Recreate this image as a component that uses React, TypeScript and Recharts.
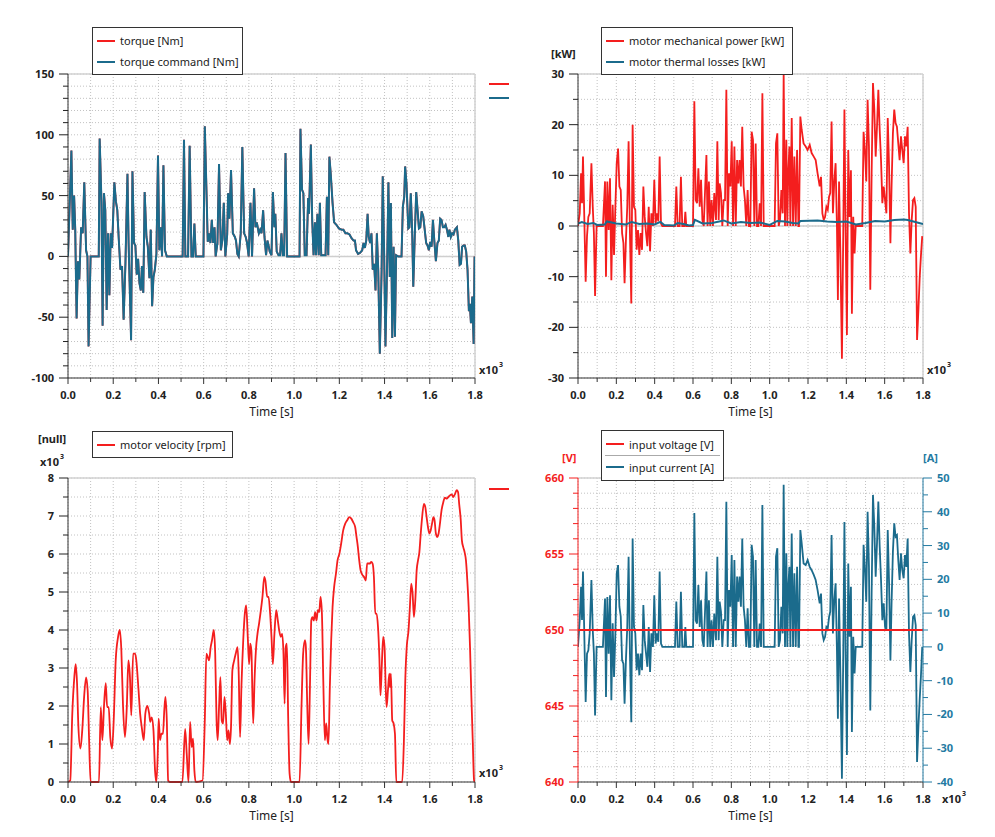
import React from "react";
import { CartesianGrid, Line, LineChart, ReferenceLine, XAxis, YAxis } from "recharts";

const FONT = "'Noto Sans', 'DejaVu Sans', sans-serif";
const RED = "#f41e1e";
const TEAL = "#1b6b8c";
const TEAL_TEXT = "#237aa2";
const INK = "#222";

// time axis in seconds, shown as x10^3
const timeTicks = [0, 100, 200, 300, 400, 500, 600, 700, 800, 900, 1000, 1100, 1200, 1300, 1400, 1500, 1600, 1700, 1800];

// torque [Nm] (torque and torque command overlap)
const torqueTime = [
  0, 15, 21, 27, 32, 38, 44, 50, 58, 65,
  72, 80, 86, 91, 100, 136, 140, 148, 153, 159,
  165, 171, 177, 183, 189, 195, 205, 212, 218, 224,
  232, 239, 246, 254, 263, 268, 279, 285, 292, 298,
  304, 310, 316, 322, 327, 333, 339, 347, 353, 360,
  366, 372, 378, 384, 391, 398, 404, 410, 416, 422,
  429, 437, 507, 513, 519, 531, 538, 546, 553, 559,
  565, 599, 605, 612, 618, 624, 630, 636, 642, 648,
  653, 661, 668, 676, 683, 689, 696, 704, 708, 714,
  721, 729, 738, 743, 749, 755, 764, 771, 779, 786,
  792, 799, 807, 814, 823, 829, 835, 844, 850, 856,
  863, 869, 876, 882, 888, 892, 900, 906, 913, 917,
  923, 931, 938, 944, 950, 956, 962, 969, 1024, 1028,
  1035, 1041, 1047, 1055, 1062, 1066, 1074, 1080, 1086, 1092,
  1097, 1103, 1109, 1114, 1120, 1131, 1139, 1145, 1151, 1156,
  1162, 1170, 1177, 1187, 1198, 1210, 1218, 1227, 1236, 1245,
  1254, 1263, 1269, 1274, 1283, 1292, 1301, 1307, 1313, 1319,
  1325, 1330, 1336, 1342, 1348, 1354, 1360, 1366, 1372, 1379,
  1387, 1392, 1398, 1404, 1412, 1417, 1423, 1428, 1434, 1440,
  1446, 1451, 1460, 1475, 1481, 1487, 1491, 1497, 1505, 1510,
  1516, 1522, 1527, 1534, 1540, 1546, 1552, 1558, 1564, 1571,
  1577, 1584, 1590, 1596, 1602, 1608, 1614, 1620, 1627, 1634,
  1640, 1646, 1652, 1658, 1664, 1670, 1676, 1682, 1687, 1693,
  1699, 1705, 1711, 1720, 1726, 1732, 1738, 1743, 1749, 1755,
  1761, 1767, 1773, 1777, 1782, 1788, 1794, 1798,
];
const torqueNm = [
  0, 87, 22, 50, 22, -51, -4, -19, 24, 19,
  61, 5, 0, -74, 0, 0, 97, 45, -57, 52,
  38, -44, 19, -32, 19, 7, 61, 45, 38, 16,
  -11, -8, -52, -6, 68, 11, -69, 70, 11, 9,
  -15, -2, -22, -28, -8, -30, 53, 16, 8, -18,
  22, -41, -17, -11, 2, 83, 5, 24, 0, 75,
  5, 0, 0, 96, 0, 0, 91, 0, 0, 27,
  0, 0, 107, 57, 12, 19, 11, 30, 11, 24,
  0, 11, 76, 5, 14, 44, 0, 18, 52, 31,
  71, 19, 16, 13, 2, 0, 19, 90, 19, 16,
  11, 0, 44, 0, 56, 24, 28, 19, 22, 19,
  38, 16, 1, 13, 8, 4, 1, 53, 24, 35,
  4, 1, 1, 19, 1, 1, 85, 0, 0, 105,
  55, 52, 1, 1, 48, 35, 92, 30, 1, 28,
  1, 35, 1, 44, 1, 1, 1, 49, 1, 82,
  68, 44, 28, 26, 23, 22, 22, 19, 19, 18,
  15, 13, 13, 5, 2, 3, 5, 11, 7, 13,
  35, 16, 11, 19, -11, -6, -28, 19, -11, -80,
  -11, 66, 5, -74, 0, 61, -17, 44, -67, 8,
  -66, 1, 0, 0, 41, 49, 74, 60, 23, 24,
  52, 22, -25, 19, 53, 38, 23, 24, 37, 33,
  23, 11, 9, 5, 12, 8, 30, 13, -4, 11,
  13, 31, 30, 24, 24, 26, 22, 16, 22, 16,
  19, 18, 22, 24, 13, -7, -6, 8, 9, 9,
  4, -11, -45, -39, -55, -33, -72, 0,
];

// electrical / power samples (shared time base)
const elecTime = [
  0, 9, 16, 21, 26, 31, 40, 47, 54, 61,
  70, 77, 83, 89, 97, 130, 141, 146, 153, 160,
  167, 174, 181, 188, 195, 202, 209, 216, 223, 230,
  237, 243, 250, 257, 264, 271, 278, 285, 292, 299,
  306, 313, 320, 327, 334, 341, 348, 355, 362, 369,
  376, 383, 391, 398, 405, 412, 419, 426, 433, 440,
  506, 513, 520, 530, 537, 544, 555, 560, 565, 600,
  607, 614, 621, 628, 635, 642, 649, 656, 663, 670,
  676, 683, 690, 697, 704, 711, 720, 727, 734, 739,
  746, 753, 760, 767, 774, 781, 788, 795, 802, 809,
  816, 823, 830, 837, 843, 850, 857, 864, 871, 878,
  885, 892, 899, 906, 913, 920, 927, 934, 941, 948,
  955, 962, 969, 976, 1026, 1033, 1040, 1047, 1054, 1061,
  1068, 1073, 1080, 1087, 1092, 1097, 1103, 1108, 1115, 1122,
  1129, 1136, 1143, 1150, 1153, 1160, 1167, 1177, 1188, 1198,
  1209, 1219, 1230, 1240, 1250, 1261, 1268, 1275, 1282, 1289,
  1296, 1303, 1310, 1316, 1323, 1330, 1337, 1344, 1351, 1356,
  1362, 1369, 1377, 1384, 1390, 1396, 1403, 1410, 1417, 1424,
  1429, 1436, 1443, 1449, 1483, 1490, 1497, 1504, 1511, 1518,
  1525, 1532, 1539, 1546, 1553, 1560, 1567, 1574, 1581, 1588,
  1595, 1602, 1609, 1616, 1623, 1630, 1636, 1643, 1650, 1657,
  1664, 1671, 1678, 1685, 1692, 1699, 1706, 1713, 1720, 1727,
  1734, 1741, 1748, 1755, 1762, 1769, 1776, 1783, 1789, 1796,
];
const mechPowerKw = [
  0, 2.5, 10.4, 4.5, 13.7, 5, -11, -2, 1.8, 2.5,
  12.4, 3.8, -1.4, -13.8, 0, 0, 8.8, -10, 8.8, -0.8,
  9.4, -10.7, 4.2, -5.7, 3.8, 12.4, 15.3, 7.8, 7.1, -1.4,
  -3.4, -11.3, -2.8, 3.8, 16.7, -1.4, -15.3, 20, 3.8, 3.2,
  -4.7, -0.8, -5.7, -1.4, -4.7, 7.8, 1.8, -1.4, -4, 3.8,
  -5, 2.5, 0, 9.1, 0.5, 2.5, 0.9, 13.7, 0.5, 0,
  0, 7.8, 0, 0, 9.7, 0, 0, 2.8, 0, 0,
  24.6, 5.1, 4.5, 11.4, 3.8, 9.1, 1.2, 0, 7.1, 14,
  0, 8.8, 0, 5.1, 0, 6.5, 1.2, 16.7, 1.2, 8.4,
  6.5, 0, 5.1, 5.1, 26.9, 0, 10.4, 7.8, 16.7, 0,
  15.7, 0, 13, 8.4, 13, 7.8, 19.6, 7.8, 5.1, 0,
  7.1, 0, 0, 18.6, 17, 0, 16.3, 0, 0, 4.5,
  0, 26.2, 0, 0, 0, 16.3, 18.3, 0, 1.2, 7.1,
  2.5, 30, 0, 17, 0, 10.4, 15.7, 0, 21.3, 0,
  13.7, 0, 15, 0, 0, 21.6, 19, 16.3, 15.7, 15,
  16, 14.4, 13.7, 13, 10.4, 7.8, 9.7, 2.5, 1.2, 1.8,
  3.8, 3.2, 5.8, 6.5, 20.6, 2.5, 8.8, 12.4, 0, -14.6,
  8.8, -5.4, -26.2, -1.4, 23, 0, -21.5, 15, 1.8, 11,
  -17.3, 1.8, -5.4, 0, 0, 18.6, 15, 8.8, 24.9, 15.7,
  -12.6, 10.4, 28.2, 23, 13.7, 19.6, 26.9, 19, 13, 4.5,
  7.8, 5.1, 2.5, 21.3, 11.7, -3.4, 7.8, 18.3, 23, 20.3,
  19.6, 16.3, 13, 17.7, 15, 12.4, 17.7, 15.7, 19.6, 2.5,
  -5.4, 1.2, 5.1, 5.5, 3.8, -22.5, -16.6, -10, -6, -2,
];
const inputCurrentA = [
  0, 8, 17.8, 8, 22.3, 9, -16.3, -2, -1, 4,
  19.8, 5, -2, -20.3, 0, 0, 14.3, -14.8, 14.8, -2,
  15.3, -15.8, 7, -8.9, 4, 21.8, 24.2, 11.9, 9, -4,
  -5, -16.8, -4, 5.9, 26.7, -2, -22.3, 32.1, 5.9, 4,
  -6.9, -2, -8.4, -2, -6.9, 12.4, 2, -2, -5.9, 5.9,
  -7.4, 4, 0, 15.3, 1, 4, 1.5, 22.3, 1, 0,
  0, 13.4, 0, 0, 16.3, 0, 0, 5.9, 0, 0,
  39.6, 7.9, 6.9, 18.3, 5.9, 13.8, 2, 0, 10.9, 22.3,
  0, 13.8, 0, 7.9, 0, 9.9, 2, 26.7, 2, 13.4,
  10.4, 0, 7.9, 7.9, 43, 0, 16.8, 11.9, 27.2, 0,
  25.7, 0, 20.8, 13.4, 20.8, 11.9, 32.1, 11.9, 7.9, 0,
  11.4, 0, 0, 30.2, 26.7, 0, 25.7, 0, 0, 6.9,
  0, 42, 0, 0, 0, 26.7, 29.2, 0, 2, 11.9,
  4, 48, 0, 27.7, 0, 17.8, 23.7, 0, 33.6, 0,
  21.8, 0, 23.7, 0, 0, 34.6, 30.7, 24.7, 24.2, 25.7,
  23.7, 22.7, 21.3, 19.8, 16.8, 12.9, 15.8, 4, 2, 3,
  5.9, 5.4, 8.9, 10.4, 33.1, 4, 13.8, 18.8, -1, -21.3,
  14.3, -7.9, -39, -2, 37, -1, -32, 24.7, 3, 17.8,
  -25.2, 3, -7.9, 0, 0, 30.2, 23.2, 13.4, 40, 23.7,
  -18.8, 15.8, 45, 35.6, 20.8, 30.7, 43, 29.7, 19.8, 7.9,
  12.9, 5.9, 4.9, 34.6, 18.8, -4, 12.9, 28.2, 36.6, 32.6,
  33.1, 25.7, 19.8, 27.7, 22.7, 20.3, 27.2, 23.7, 32.1, 4,
  -7.4, 2, 8.9, 9.4, 6.4, -34.1, -23.7, -15.3, -8.9, 0,
];

// motor thermal losses [kW]
const thermalTime = [
  0, 20, 50, 80, 100, 140, 150, 200, 250, 280,
  320, 360, 400, 430, 450, 500, 520, 550, 580, 600,
  610, 650, 700, 760, 800, 850, 900, 950, 1000, 1040,
  1080, 1120, 1150, 1160, 1250, 1300, 1350, 1400, 1450, 1500,
  1550, 1600, 1650, 1700, 1720, 1760, 1800,
];
const thermalKw = [
  0.5, 0.8, 0.4, 0.6, 0.2, 0.3, 0.9, 0.5, 0.3, 0.8,
  0.4, 0.5, 0.3, 0.8, 0.2, 0.1, 0.6, 0.4, 0.1, 0.2,
  1.2, 0.5, 0.6, 1.1, 0.5, 0.8, 0.6, 0.7, 0.2, 1.0,
  0.9, 0.6, 0.5, 1.0, 1.1, 0.9, 0.8, 0.9, 0.3, 0.6,
  1.0, 0.9, 1.2, 1.3, 1.2, 0.8, 0.4,
];

// motor velocity [rpm]
const velocityTime = [
  0, 10, 19, 28, 34, 40, 46, 55, 63, 72,
  80, 87, 93, 100, 137, 145, 152, 159, 167, 173,
  180, 187, 195, 202, 211, 221, 229, 236, 243, 252,
  260, 267, 274, 280, 288, 297, 302, 311, 319, 326,
  335, 342, 351, 359, 364, 370, 378, 385, 391, 397,
  401, 407, 413, 420, 426, 431, 437, 443, 450, 506,
  518, 525, 533, 540, 547, 553, 559, 565, 595, 605,
  612, 618, 624, 631, 637, 645, 651, 657, 662, 668,
  674, 680, 686, 692, 698, 704, 710, 716, 721, 727,
  735, 742, 750, 755, 761, 767, 775, 782, 788, 795,
  801, 806, 811, 819, 825, 831, 838, 845, 851, 860,
  868, 873, 881, 887, 894, 900, 906, 913, 921, 928,
  934, 941, 947, 953, 958, 963, 968, 974, 980, 986,
  1024, 1033, 1040, 1048, 1052, 1058, 1064, 1070, 1076, 1081,
  1087, 1093, 1099, 1105, 1111, 1117, 1123, 1129, 1136, 1142,
  1148, 1152, 1158, 1164, 1170, 1177, 1185, 1192, 1200, 1208,
  1217, 1226, 1235, 1244, 1253, 1261, 1270, 1276, 1282, 1288,
  1294, 1303, 1310, 1317, 1323, 1329, 1335, 1341, 1347, 1353,
  1359, 1365, 1371, 1377, 1382, 1388, 1394, 1400, 1405, 1409,
  1415, 1421, 1424, 1428, 1434, 1440, 1446, 1452, 1478, 1486,
  1492, 1498, 1506, 1512, 1518, 1524, 1530, 1536, 1542, 1548,
  1554, 1559, 1565, 1574, 1580, 1586, 1592, 1598, 1604, 1610,
  1616, 1621, 1627, 1633, 1639, 1645, 1652, 1660, 1667, 1675,
  1682, 1689, 1697, 1704, 1711, 1719, 1725, 1730, 1737, 1742,
  1748, 1754, 1760, 1766, 1772, 1778, 1784, 1790, 1796, 1800,
];
const velocityRpm = [
  0, 40, 1800, 2760, 3100, 2600, 1450, 880, 1360, 2300,
  2750, 2400, 1180, 0, 0, 1970, 1100, 1970, 2600, 1970,
  1970, 1180, 880, 1600, 3200, 3800, 4000, 3460, 2060, 1180,
  1970, 3200, 2760, 1750, 3380, 3380, 3200, 2500, 1800, 1450,
  1100, 1800, 2000, 1800, 1580, 1700, 1360, 300, 0, 750,
  1670, 1100, 1270, 1270, 1900, 2240, 1620, 40, 0, 0,
  1400, 750, 0, 1580, 920, 1140, 300, 0, 40, 1620,
  3380, 3290, 3200, 3550, 3730, 4000, 3380, 1620, 1100, 1970,
  2760, 1620, 1540, 2240, 1800, 1100, 1360, 1000, 1450, 2940,
  3200, 3380, 3550, 2850, 1180, 2500, 3730, 4430, 4650, 3820,
  3100, 3640, 3460, 1540, 2680, 3460, 3900, 4170, 4430, 4870,
  5400, 5300, 4870, 4870, 4430, 3820, 3100, 3900, 4520, 4250,
  3990, 3820, 3900, 3380, 2060, 3550, 3640, 1620, 220, 0,
  0, 2060, 3380, 3730, 3550, 2060, 1000, 2500, 4250, 4340,
  4250, 4470, 4250, 4520, 4470, 4870, 4430, 2680, 1100, 1540,
  1100, 1000, 2500, 3730, 4600, 5130, 5480, 5830, 6000, 6270,
  6620, 6800, 6890, 6970, 6930, 6840, 6710, 6450, 6180, 5830,
  5570, 5440, 5390, 5300, 5750, 5750, 5750, 5790, 5750, 5390,
  4430, 4430, 4080, 3290, 2280, 3100, 3820, 3550, 2500, 1970,
  2410, 2850, 2500, 2850, 1620, 1540, 1270, 0, 0, 1180,
  2760, 3550, 3990, 4600, 5220, 4960, 4340, 4780, 5570, 5830,
  6050, 6450, 6890, 7320, 7240, 6970, 6710, 6540, 6620, 6800,
  6970, 6890, 6540, 6450, 6540, 6800, 7150, 7370, 7480, 7460,
  7500, 7540, 7570, 7500, 7570, 7680, 7630, 7320, 6890, 6360,
  6180, 6050, 5830, 5300, 4600, 3550, 2240, 1100, 40, 0,
];

// input voltage [V]
const voltageTime = [0, 1800];
const inputVoltageV = [650, 650];

// y-axis tick sets
const torqueTicks = [-100, -90, -80, -70, -60, -50, -40, -30, -20, -10, 0, 10, 20, 30, 40, 50, 60, 70, 80, 90, 100, 110, 120, 130, 140, 150];
const powerTicks = [-30, -25, -20, -15, -10, -5, 0, 5, 10, 15, 20, 25, 30];
const velocityTicks = [0, 500, 1000, 1500, 2000, 2500, 3000, 3500, 4000, 4500, 5000, 5500, 6000, 6500, 7000, 7500, 8000];
const voltageTicks = [640, 641, 642, 643, 644, 645, 646, 647, 648, 649, 650, 651, 652, 653, 654, 655, 656, 657, 658, 659, 660];
const currentTicks = [-40, -35, -30, -25, -20, -15, -10, -5, 0, 5, 10, 15, 20, 25, 30, 35, 40, 45, 50];

const rows = (t: number[], v: number[]) => t.map((x, i) => ({ t: x, v: v[i] }));

const tickFont = { fontFamily: FONT, fontSize: 11, fontWeight: 700 } as const;

function XTick(props: any) {
  const { x, y, payload } = props;
  const v = payload.value as number;
  const major = v % 200 === 0;
  return (
    <g>
      <line x1={x} y1={y} x2={x} y2={y + (major ? 6 : 4)} stroke="#333" />
      {major && (
        <text x={x} y={y + 21} textAnchor="middle" fill={INK} style={tickFont}>
          {(v / 1000).toFixed(1)}
        </text>
      )}
    </g>
  );
}

function makeYTick(step: number, fmt: (v: number) => string, color: string, side: "left" | "right") {
  return function YTick(props: any) {
    const { x, y, payload } = props;
    const v = payload.value as number;
    const major = Math.abs(v % step) < 1e-6;
    const dir = side === "left" ? -1 : 1;
    return (
      <g>
        <line x1={x} y1={y} x2={x + dir * (major ? 9 : 5)} y2={y} stroke={color} />
        {major && (
          <text x={x + dir * 14} y={y + 4} textAnchor={side === "left" ? "end" : "start"} fill={color} style={tickFont}>
            {fmt(v)}
          </text>
        )}
      </g>
    );
  };
}

const timeAxis = (
  <XAxis
    type="number"
    dataKey="t"
    domain={[0, 1800]}
    ticks={timeTicks}
    interval={0}
    tickSize={0}
    tickMargin={0}
    tickLine={false}
    tick={XTick}
    height={40}
    axisLine={{ stroke: "#333" }}
    allowDataOverflow
    label={{ value: "Time [s]", position: "insideBottom", offset: 2, fill: INK, fontSize: 12, fontFamily: FONT }}
  />
);

const grid = <CartesianGrid strokeDasharray="1 2" stroke="#c2c2c2" />;
const frameColor = "#d2d2d2";

type LegendItem = { label: string; color: string };

function LegendBox({ left, top, width, items, rowH, divider }: { left: number; top: number; width: number; items: LegendItem[]; rowH: number; divider?: boolean }) {
  return (
    <div
      style={{
        position: "absolute",
        left,
        top,
        width,
        boxSizing: "border-box",
        border: "1px solid #333",
        background: "#fff",
        padding: "2px 0",
        fontFamily: FONT,
        fontSize: 11,
        color: INK,
      }}
    >
      {items.map((it, i) => (
        <div key={it.label}>
          {divider && i > 0 && <div style={{ height: 1, background: "#aaa", margin: "0 3px" }} />}
          <div style={{ display: "flex", alignItems: "center", height: rowH }}>
            <svg width={27} height={4} style={{ flex: "none" }}>
              <line x1={4} y1={2} x2={22} y2={2} stroke={it.color} strokeWidth={2} />
            </svg>
            <span style={{ whiteSpace: "nowrap" }}>{it.label}</span>
          </div>
        </div>
      ))}
    </div>
  );
}

function Exp({ x, y }: { x: number; y: number }) {
  return (
    <text x={x} y={y} fill={INK} style={{ fontFamily: FONT, fontSize: 11, fontWeight: 700 }}>
      x10
      <tspan dx={1} dy={-7} fontSize={7}>3</tspan>
    </text>
  );
}

export default function App() {
  const torqueRows = rows(torqueTime, torqueNm);
  const powerRows = rows(elecTime, mechPowerKw);
  const thermalRows = rows(thermalTime, thermalKw);
  const velocityRows = rows(velocityTime, velocityRpm);
  const currentRows = rows(elecTime, inputCurrentA);
  const voltageRows = rows(voltageTime, inputVoltageV);

  return (
    <div style={{ position: "absolute", left: 0, top: 0, width: 995, height: 837, background: "#fff", overflow: "hidden" }}>
      {/* torque */}
      <div style={{ position: "absolute", left: 0, top: 0 }}>
        <LineChart width={500} height={420} margin={{ top: 74, right: 25, bottom: 2, left: 8 }}>
          {grid}
          {timeAxis}
          <YAxis
            type="number"
            domain={[-100, 150]}
            ticks={torqueTicks}
            interval={0}
            width={60}
            tickSize={0}
            tickMargin={0}
            tickLine={false}
            tick={makeYTick(50, (v) => String(v), INK, "left")}
            axisLine={{ stroke: "#333" }}
          />
          <ReferenceLine y={150} stroke={frameColor} strokeWidth={1.5} />
          <ReferenceLine x={1800} stroke={frameColor} strokeWidth={1.5} />
          <ReferenceLine y={0} stroke="#cfcfcf" strokeWidth={1.5} />
          <Line data={torqueRows} dataKey="v" name="torque [Nm]" type="linear" stroke={RED} strokeWidth={1.8} dot={false} isAnimationActive={false} />
          <Line data={torqueRows} dataKey="v" name="torque command [Nm]" type="linear" stroke={TEAL} strokeWidth={2} dot={false} isAnimationActive={false} />
        </LineChart>
      </div>

      {/* power */}
      <div style={{ position: "absolute", left: 500, top: 0 }}>
        <LineChart width={495} height={420} margin={{ top: 74, right: 72, bottom: 2, left: 18 }}>
          {grid}
          {timeAxis}
          <YAxis
            type="number"
            domain={[-30, 30]}
            ticks={powerTicks}
            interval={0}
            width={60}
            tickSize={0}
            tickMargin={0}
            tickLine={false}
            tick={makeYTick(10, (v) => String(v), INK, "left")}
            axisLine={{ stroke: "#333" }}
          />
          <ReferenceLine y={30} stroke={frameColor} strokeWidth={1.5} />
          <ReferenceLine x={1800} stroke={frameColor} strokeWidth={1.5} />
          <ReferenceLine y={0} stroke="#cfcfcf" strokeWidth={1.5} />
          <Line data={powerRows} dataKey="v" name="motor mechanical power [kW]" type="linear" stroke={RED} strokeWidth={1.8} dot={false} isAnimationActive={false} />
          <Line data={thermalRows} dataKey="v" name="motor thermal losses [kW]" type="linear" stroke={TEAL} strokeWidth={2} dot={false} isAnimationActive={false} />
        </LineChart>
      </div>

      {/* velocity */}
      <div style={{ position: "absolute", left: 0, top: 420 }}>
        <LineChart width={500} height={417} margin={{ top: 58, right: 25, bottom: 15, left: 8 }}>
          {grid}
          {timeAxis}
          <YAxis
            type="number"
            domain={[0, 8000]}
            ticks={velocityTicks}
            interval={0}
            width={60}
            tickSize={0}
            tickMargin={0}
            tickLine={false}
            tick={makeYTick(1000, (v) => String(v / 1000), INK, "left")}
            axisLine={{ stroke: "#333" }}
          />
          <ReferenceLine y={8000} stroke={frameColor} strokeWidth={1.5} />
          <ReferenceLine x={1800} stroke={frameColor} strokeWidth={1.5} />
          <Line data={velocityRows} dataKey="v" name="motor velocity [rpm]" type="monotone" stroke={RED} strokeWidth={1.8} dot={false} isAnimationActive={false} />
        </LineChart>
      </div>

      {/* voltage / current */}
      <div style={{ position: "absolute", left: 500, top: 420 }}>
        <LineChart width={495} height={417} margin={{ top: 58, right: 22, bottom: 15, left: 18 }}>
          <CartesianGrid strokeDasharray="1 2" stroke="#c2c2c2" yAxisId="v" />
          {timeAxis}
          <YAxis
            yAxisId="v"
            type="number"
            domain={[640, 660]}
            ticks={voltageTicks}
            interval={0}
            width={60}
            tickSize={0}
            tickMargin={0}
            tickLine={false}
            tick={makeYTick(5, (v) => String(v), RED, "left")}
            axisLine={{ stroke: RED }}
          />
          <YAxis
            yAxisId="a"
            orientation="right"
            type="number"
            domain={[-40, 50]}
            ticks={currentTicks}
            interval={0}
            width={50}
            tickSize={0}
            tickMargin={0}
            tickLine={false}
            tick={makeYTick(10, (v) => String(v), TEAL_TEXT, "right")}
            axisLine={{ stroke: TEAL_TEXT }}
          />
          <ReferenceLine yAxisId="v" y={660} stroke={frameColor} strokeWidth={1.5} />
          <Line yAxisId="a" data={currentRows} dataKey="v" name="input current [A]" type="linear" stroke={TEAL} strokeWidth={1.8} dot={false} isAnimationActive={false} />
          <Line yAxisId="v" data={voltageRows} dataKey="v" name="input voltage [V]" type="linear" stroke={RED} strokeWidth={2} dot={false} isAnimationActive={false} />
        </LineChart>
      </div>

      {/* axis captions and side markers */}
      <svg width={995} height={837} style={{ position: "absolute", left: 0, top: 0, pointerEvents: "none" }}>
        <line x1={489} y1={84} x2={509} y2={84} stroke={RED} strokeWidth={2} />
        <line x1={489} y1={98} x2={509} y2={98} stroke={TEAL} strokeWidth={2} />
        <line x1={489} y1={489} x2={509} y2={489} stroke={RED} strokeWidth={2} />
        <Exp x={479} y={374} />
        <Exp x={927} y={374} />
        <Exp x={479} y={777} />
        <Exp x={942} y={803} />
        <text x={551} y={58} fill={INK} style={tickFont}>[kW]</text>
        <text x={38} y={443} fill={INK} style={tickFont}>[null]</text>
        <Exp x={40} y={466} />
        <text x={562} y={462} fill={RED} style={tickFont}>[V]</text>
        <text x={923} y={462} fill={TEAL_TEXT} style={tickFont}>[A]</text>
      </svg>

      <LegendBox left={92} top={27} width={151} rowH={21} items={[{ label: "torque [Nm]", color: RED }, { label: "torque command [Nm]", color: TEAL }]} />
      <LegendBox left={601} top={27} width={192} rowH={21} items={[{ label: "motor mechanical power [kW]", color: RED }, { label: "motor thermal losses [kW]", color: TEAL }]} />
      <LegendBox left={92} top={431} width={141} rowH={21} items={[{ label: "motor velocity [rpm]", color: RED }]} />
      <LegendBox left={601} top={430} width={123} rowH={22} divider items={[{ label: "input voltage [V]", color: RED }, { label: "input current [A]", color: TEAL }]} />
    </div>
  );
}
